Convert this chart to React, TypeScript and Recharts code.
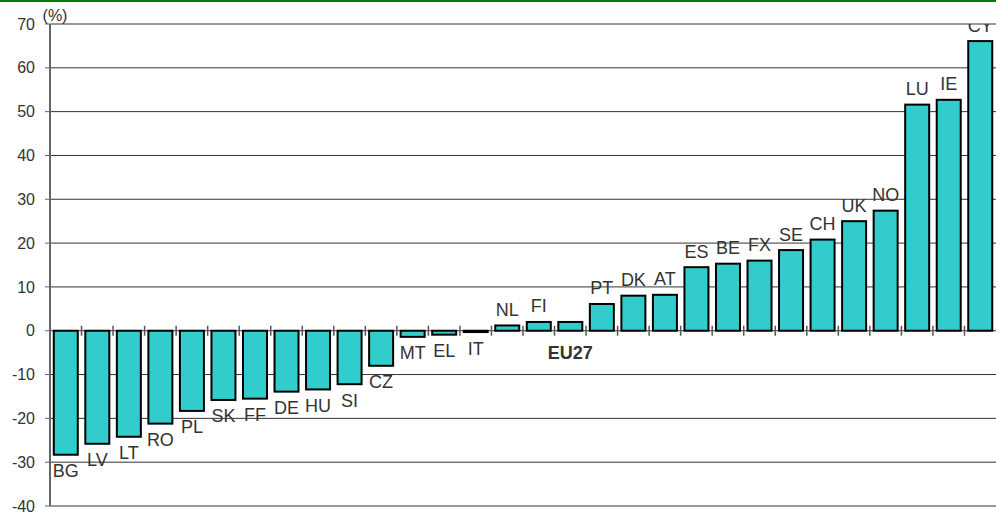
import React from "react";
import { BarChart, Bar, XAxis, YAxis, CartesianGrid } from "recharts";

const countries = ["BG","LV","LT","RO","PL","SK","FF","DE","HU","SI","CZ","MT","EL","IT","NL","FI","EU27","PT","DK","AT","ES","BE","FX","SE","CH","UK","NO","LU","IE","CY"];
const changes = [-28.3,-25.8,-24.2,-21.2,-18.3,-15.8,-15.5,-13.9,-13.4,-12.2,-8.0,-1.4,-0.9,-0.3,1.2,2.0,2.0,6.1,8.0,8.2,14.5,15.3,16.0,18.4,20.8,25.0,27.4,51.6,52.7,66.1];
const yTicks = [-40,-30,-20,-10,0,10,20,30,40,50,60,70];
const aggregate = "EU27";
const unitLabel = "(%)";

const data = countries.map((c, i) => ({ country: c, value: changes[i] }));

const FONT = "'Liberation Sans', Arial, Helvetica, sans-serif";
const GAP = 0.12;

function BarShape(props: any) {
  const { x, y, width, height, payload } = props;
  const top = Math.min(y, y + height);
  const bottom = Math.max(y, y + height);
  const v = payload.value;
  const zero = v >= 0 ? bottom : top;
  const band = width / (1 - 2 * GAP);
  const left = x - (band - width) / 2;
  const isAgg = payload.country === aggregate;
  let ly: number;
  if (isAgg) ly = zero + 22;
  else if (v < 0) ly = bottom + 16;
  else ly = top - 16;
  return (
    <g>
      <rect x={x} y={top} width={width} height={Math.max(bottom - top, 0.5)} fill="#33CCCC" stroke="#000" strokeWidth={2} />
      <line x1={left} x2={left} y1={zero - 5} y2={zero + 5} stroke="#555" strokeWidth={1.5} />
      <text
        x={x + width / 2}
        y={ly + 6.5}
        textAnchor="middle"
        fontFamily={FONT}
        fontSize={18}
        fontWeight={isAgg ? 700 : 400}
        fill="#333"
      >
        {payload.country}
      </text>
    </g>
  );
}

function UnitLabel(props: any) {
  const vb = props.viewBox || {};
  return (
    <text x={(vb.x || 0) + (vb.width || 0) + 5} y={(vb.y || 0) - 3} textAnchor="middle" fontFamily={FONT} fontSize={16} fill="#333">
      {unitLabel}
    </text>
  );
}

export default function App() {
  return (
    <div style={{ position: "absolute", left: 0, top: 0, width: 996, height: 513, overflow: "hidden", background: "#fff" }}>
      <div style={{ position: "absolute", left: 0, top: 0, width: 996, height: 2, background: "#008000" }} />
      <BarChart
        width={996}
        height={513}
        data={data}
        margin={{ top: 24, right: 0, bottom: 7, left: 0 }}
        barCategoryGap={`${GAP * 100}%`}
      >
        <CartesianGrid vertical={false} stroke="#333" strokeWidth={1} />
        <XAxis dataKey="country" hide />
        <YAxis
          domain={[-40, 70]}
          ticks={yTicks}
          interval={0}
          width={50}
          tickSize={5}
          tickMargin={10}
          allowDataOverflow
          axisLine={{ stroke: "#666", strokeWidth: 2 }}
          tickLine={{ stroke: "#666" }}
          tick={{ fontSize: 16, fill: "#333", fontFamily: FONT }}
          label={<UnitLabel />}
        />
        <Bar dataKey="value" isAnimationActive={false} shape={<BarShape />} />
      </BarChart>
    </div>
  );
}
